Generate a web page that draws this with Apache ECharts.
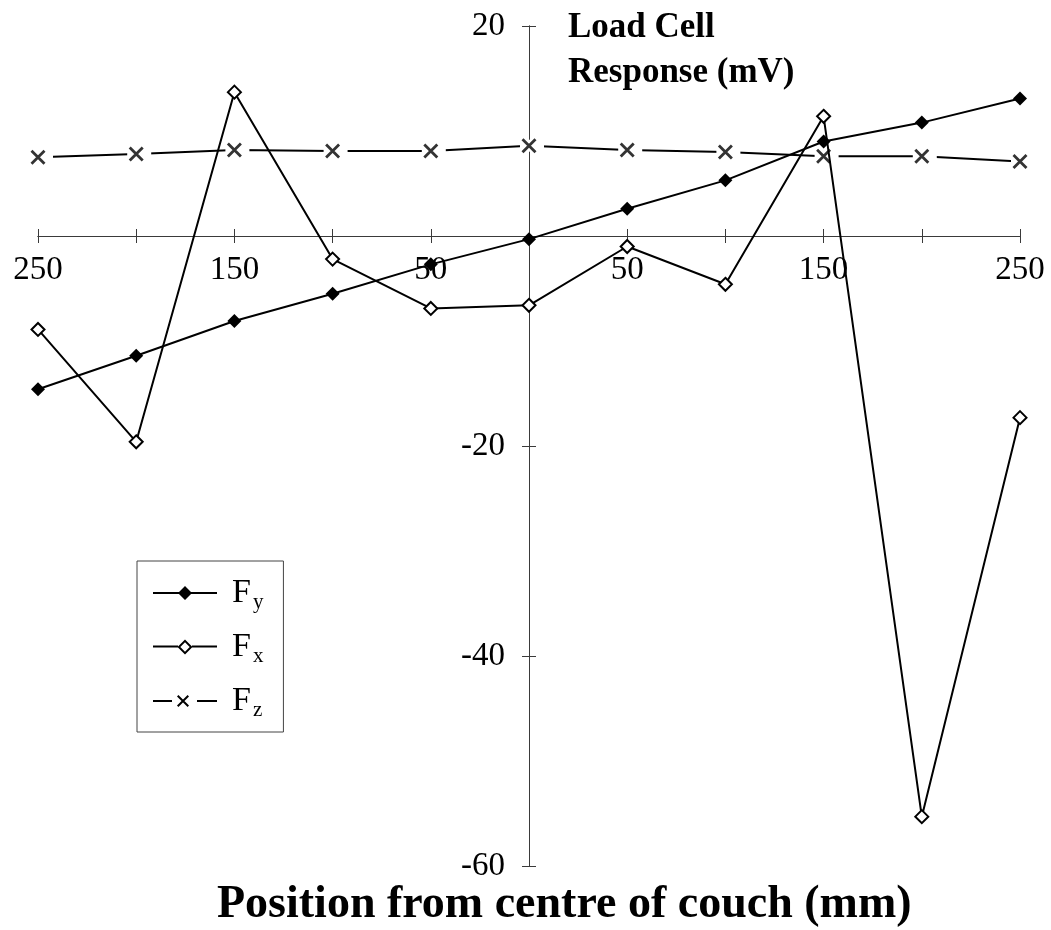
<!DOCTYPE html>
<html>
<head>
<meta charset="utf-8">
<title>Load Cell Response</title>
<script src="https://cdn.jsdelivr.net/npm/echarts@6/dist/echarts.min.js"></script>
<style>
  html, body { margin: 0; padding: 0; background: #fff; }
  #chart { width: 1051px; height: 930px; }
</style>
</head>
<body>
<div id="chart"></div>
<script>
// Couch positions (mm) and load cell responses (mV)
const positions = [-250, -200, -150, -100, -50, 0, 50, 100, 150, 200, 250];
const fy = [-14.6, -11.4, -8.1, -5.5, -2.7, -0.3, 2.6, 5.3, 9.0, 10.8, 13.1];
const fx = [-8.9, -19.6, 13.7, -2.2, -6.9, -6.6, -1.0, -4.6, 11.4, -55.3, -17.3];
const fz = [7.5, 7.8, 8.2, 8.1, 8.1, 8.6, 8.2, 8.0, 7.6, 7.6, 7.1];

// Tick values that carry a printed label
const xLabelled = [-250, -150, -50, 50, 150, 250];
const yLabelled = [20, -20, -40, -60];

const yTitle = 'Load Cell\nResponse (mV)';
const xTitle = 'Position from centre of couch (mm)';

const SERIF = '"Liberation Serif", "Times New Roman", serif';
const AXIS = '#3a3a3a';

// Plot area and the axis ranges; the axes cross at (0, 0)
const GRID = { left: 38, right: 31, top: 26, bottom: 64 };
const X_RANGE = [-250, 250];
const Y_RANGE = [-60, 20];
const plotW = 1051 - GRID.left - GRID.right;
const plotH = 930 - GRID.top - GRID.bottom;
// shift each axis inward from the plot edge to the zero of the other axis
const xAxisShift = -plotH * (0 - Y_RANGE[0]) / (Y_RANGE[1] - Y_RANGE[0]);
const yAxisShift = -plotW * (0 - X_RANGE[0]) / (X_RANGE[1] - X_RANGE[0]);

const pairs = vals => positions.map((p, i) => [p, vals[i]]);

// Legend glyphs: line segment with the series marker, drawn in a 64x16 box
const ICON_FY = 'path://M0,7L64,7L64,9L0,9Z M32,1L39,8L32,15L25,8Z';
const ICON_FX = 'path://M0,7L25,7L25,9L0,9Z M39,7L64,7L64,9L39,9Z ' +
                'M32,1L39.5,8.5L32,16L24.5,8.5Z M32,3.8L27.3,8.5L32,13.2L36.7,8.5Z';
const ICON_FZ = 'path://M0,7L19,7L19,9L0,9Z M44,7L64,7L64,9L44,9Z ' +
                'M24,3.4L25.4,2L36,12.6L34.6,14Z M36,3.4L25.4,14L24,12.6L34.6,2Z';

const tickText = { fontFamily: SERIF, fontSize: 33, color: '#000' };

const xAxisBase = {
  type: 'value', min: X_RANGE[0], max: X_RANGE[1], interval: 50,
  position: 'bottom', offset: xAxisShift,
  axisLine: { onZero: false, lineStyle: { color: AXIS, width: 1 } },
  splitLine: { show: false }
};
const yAxisBase = {
  type: 'value', min: Y_RANGE[0], max: Y_RANGE[1], interval: 20,
  position: 'left', offset: yAxisShift,
  axisLine: { onZero: false, lineStyle: { color: AXIS, width: 1 } },
  splitLine: { show: false }
};

const chart = echarts.init(document.getElementById('chart'), null, { renderer: 'canvas' });

chart.setOption({
  animation: false,
  backgroundColor: '#fff',
  title: [
    {
      text: yTitle, left: 568, top: 5, padding: 0,
      textStyle: { fontFamily: SERIF, fontWeight: 'bold', fontSize: 35, lineHeight: 45, color: '#000' }
    },
    {
      text: xTitle, left: 217, top: 880, padding: 0,
      textStyle: { fontFamily: SERIF, fontWeight: 'bold', fontSize: 46, lineHeight: 50, color: '#000' }
    }
  ],
  grid: { ...GRID, containLabel: false, outerBoundsMode: 'none' },
  xAxis: [
    {
      ...xAxisBase,
      axisTick: { show: true, length: 7, lineStyle: { color: AXIS } },
      axisLabel: {
        ...tickText, margin: 18, showMinLabel: true, showMaxLabel: true,
        formatter: v => xLabelled.includes(v) ? String(Math.abs(v)) : ''
      }
    },
    {
      ...xAxisBase,
      axisTick: { show: true, inside: true, length: 7, lineStyle: { color: AXIS } },
      axisLabel: { show: false }
    }
  ],
  yAxis: [
    {
      ...yAxisBase,
      axisTick: { show: true, length: 7, lineStyle: { color: AXIS } },
      axisLabel: {
        ...tickText, margin: 24, showMinLabel: true, showMaxLabel: true,
        formatter: v => yLabelled.includes(v) ? String(v) : ''
      }
    },
    {
      ...yAxisBase,
      axisTick: { show: true, inside: true, length: 7, lineStyle: { color: AXIS } },
      axisLabel: { show: false }
    }
  ],
  legend: {
    left: 137, top: 561, orient: 'vertical',
    itemWidth: 64, itemHeight: 16, itemGap: 17,
    padding: [15, 20, 11, 16],
    borderColor: '#444', borderWidth: 1,
    selectedMode: false,
    data: [
      { name: 'Fy', icon: ICON_FY, itemStyle: { color: '#000', borderWidth: 0 } },
      { name: 'Fx', icon: ICON_FX, itemStyle: { color: '#000', borderWidth: 0 } },
      { name: 'Fz', icon: ICON_FZ, itemStyle: { color: '#000', borderWidth: 0 } }
    ],
    formatter: name => '{f|F}{s|' + name.slice(1) + '}',
    textStyle: {
      padding: [0, 0, 0, 10],
      rich: {
        f: { fontFamily: SERIF, fontSize: 34, lineHeight: 40, color: '#000' },
        s: { fontFamily: SERIF, fontSize: 21, lineHeight: 21, color: '#000', verticalAlign: 'bottom', padding: [0, 0, 0, 2] }
      }
    }
  },
  series: [
    {
      // Fz trace; white boxes behind each cross open small gaps in the line
      name: 'Fz', type: 'line', data: pairs(fz), z: 2,
      xAxisIndex: 0, yAxisIndex: 0,
      symbol: 'rect', symbolSize: [24, 12], symbolOffset: [3, 0],
      itemStyle: { color: '#fff', borderWidth: 0 },
      lineStyle: { color: '#000', width: 2 },
      emphasis: { disabled: true }
    },
    {
      name: 'Fx', type: 'line', data: pairs(fx), z: 3,
      xAxisIndex: 0, yAxisIndex: 0,
      symbol: 'diamond', symbolSize: 13,
      itemStyle: { color: '#fff', borderColor: '#000', borderWidth: 2 },
      lineStyle: { color: '#000', width: 2 },
      emphasis: { disabled: true }
    },
    {
      name: 'Fy', type: 'line', data: pairs(fy), z: 4,
      xAxisIndex: 0, yAxisIndex: 0,
      symbol: 'diamond', symbolSize: 14,
      itemStyle: { color: '#000' },
      lineStyle: { color: '#000', width: 2 },
      emphasis: { disabled: true }
    },
    {
      // cross markers of the Fz trace
      name: 'Fz markers', type: 'scatter', data: pairs(fz), z: 5,
      xAxisIndex: 0, yAxisIndex: 0,
      symbol: 'path://M0,0L10,10M10,0L0,10', symbolSize: 13,
      itemStyle: { color: 'transparent', borderColor: '#000', borderWidth: 2.8 },
      emphasis: { disabled: true }
    }
  ]
});
</script>
</body>
</html>
